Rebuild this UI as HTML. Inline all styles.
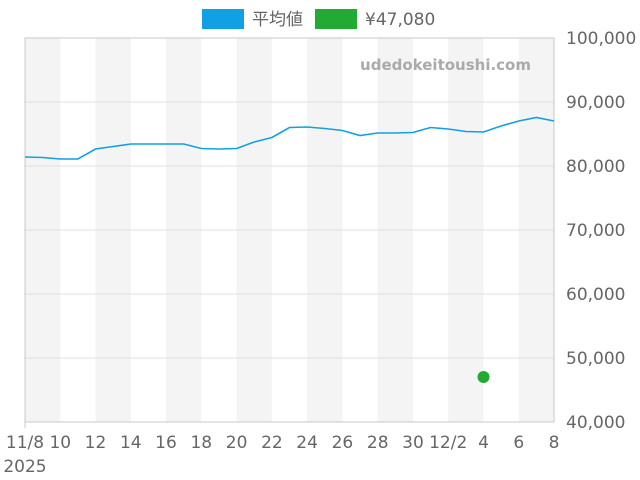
<!DOCTYPE html>
<html><head><meta charset="utf-8"><style>
body{margin:0;background:#fff;}
svg{display:block;font-family:"DejaVu Sans","Liberation Sans","Noto Sans CJK JP",sans-serif;}
</style></head><body>
<svg width="640" height="480" viewBox="0 0 640 480">
<g fill="#f4f4f4">
<rect x="25" y="38" width="35.3" height="384"/>
<rect x="95.5" y="38" width="35.3" height="384"/>
<rect x="166" y="38" width="35.3" height="384"/>
<rect x="236.6" y="38" width="35.3" height="384"/>
<rect x="307.1" y="38" width="35.3" height="384"/>
<rect x="377.6" y="38" width="35.3" height="384"/>
<rect x="448.1" y="38" width="35.3" height="384"/>
<rect x="518.7" y="38" width="35.3" height="384"/>
</g>
<g stroke="#e0e0e0" stroke-width="1">
<line x1="25" y1="102" x2="554" y2="102"/>
<line x1="25" y1="166" x2="554" y2="166"/>
<line x1="25" y1="230" x2="554" y2="230"/>
<line x1="25" y1="294" x2="554" y2="294"/>
<line x1="25" y1="358" x2="554" y2="358"/>
</g>
<rect x="25" y="38" width="529" height="384" fill="none" stroke="#c8c8c8"/>
<g stroke="#c8c8c8"><line x1="25" y1="422" x2="25" y2="428"/></g>
<text x="531" y="70" text-anchor="end" font-size="15" font-weight="bold" fill="#aaa">udedokeitoushi.com</text>
<polyline fill="none" stroke="#11a0e4" stroke-width="1.6" points="25,157 42.6,157.5 60.3,159 77.9,159 95.5,149 113.2,146.5 130.8,144 148.4,144 166,144 183.7,144 201.3,148.5 219,149 236.6,148.5 254.2,142 271.9,137.5 289.5,127.5 307.1,127 324.8,128.5 342.4,130.5 360,135.5 377.7,133 395.3,133 413,132.5 430.6,127.5 448.2,129 465.9,131.5 483.5,132 501.1,126 518.8,121 536.4,117.5 554,121"/>
<circle cx="483.5" cy="377" r="6" fill="#22aa33"/>
<g font-size="17" fill="#666" text-anchor="start">
<text x="566" y="44">100,000</text>
<text x="566" y="108">90,000</text>
<text x="566" y="172">80,000</text>
<text x="566" y="236">70,000</text>
<text x="566" y="300">60,000</text>
<text x="566" y="364">50,000</text>
<text x="566" y="428">40,000</text>
</g>
<g font-size="17" fill="#666" text-anchor="middle">
<text x="25" y="448">11/8</text>
<text x="60.3" y="448">10</text>
<text x="95.5" y="448">12</text>
<text x="130.8" y="448">14</text>
<text x="166" y="448">16</text>
<text x="201.3" y="448">18</text>
<text x="236.6" y="448">20</text>
<text x="271.9" y="448">22</text>
<text x="307.1" y="448">24</text>
<text x="342.4" y="448">26</text>
<text x="377.7" y="448">28</text>
<text x="413" y="448">30</text>
<text x="448.2" y="448">12/2</text>
<text x="483.5" y="448">4</text>
<text x="518.8" y="448">6</text>
<text x="554" y="448">8</text>
<text x="25" y="472">2025</text>
</g>
<rect x="202" y="9" width="42" height="20" fill="#11a0e4"/>
<text x="252" y="25" font-size="17" fill="#666">平均値</text>
<rect x="315" y="9" width="42" height="20" fill="#22aa33"/>
<text x="365" y="25" font-size="17" fill="#666">¥47,080</text>
</svg>
</body></html>
